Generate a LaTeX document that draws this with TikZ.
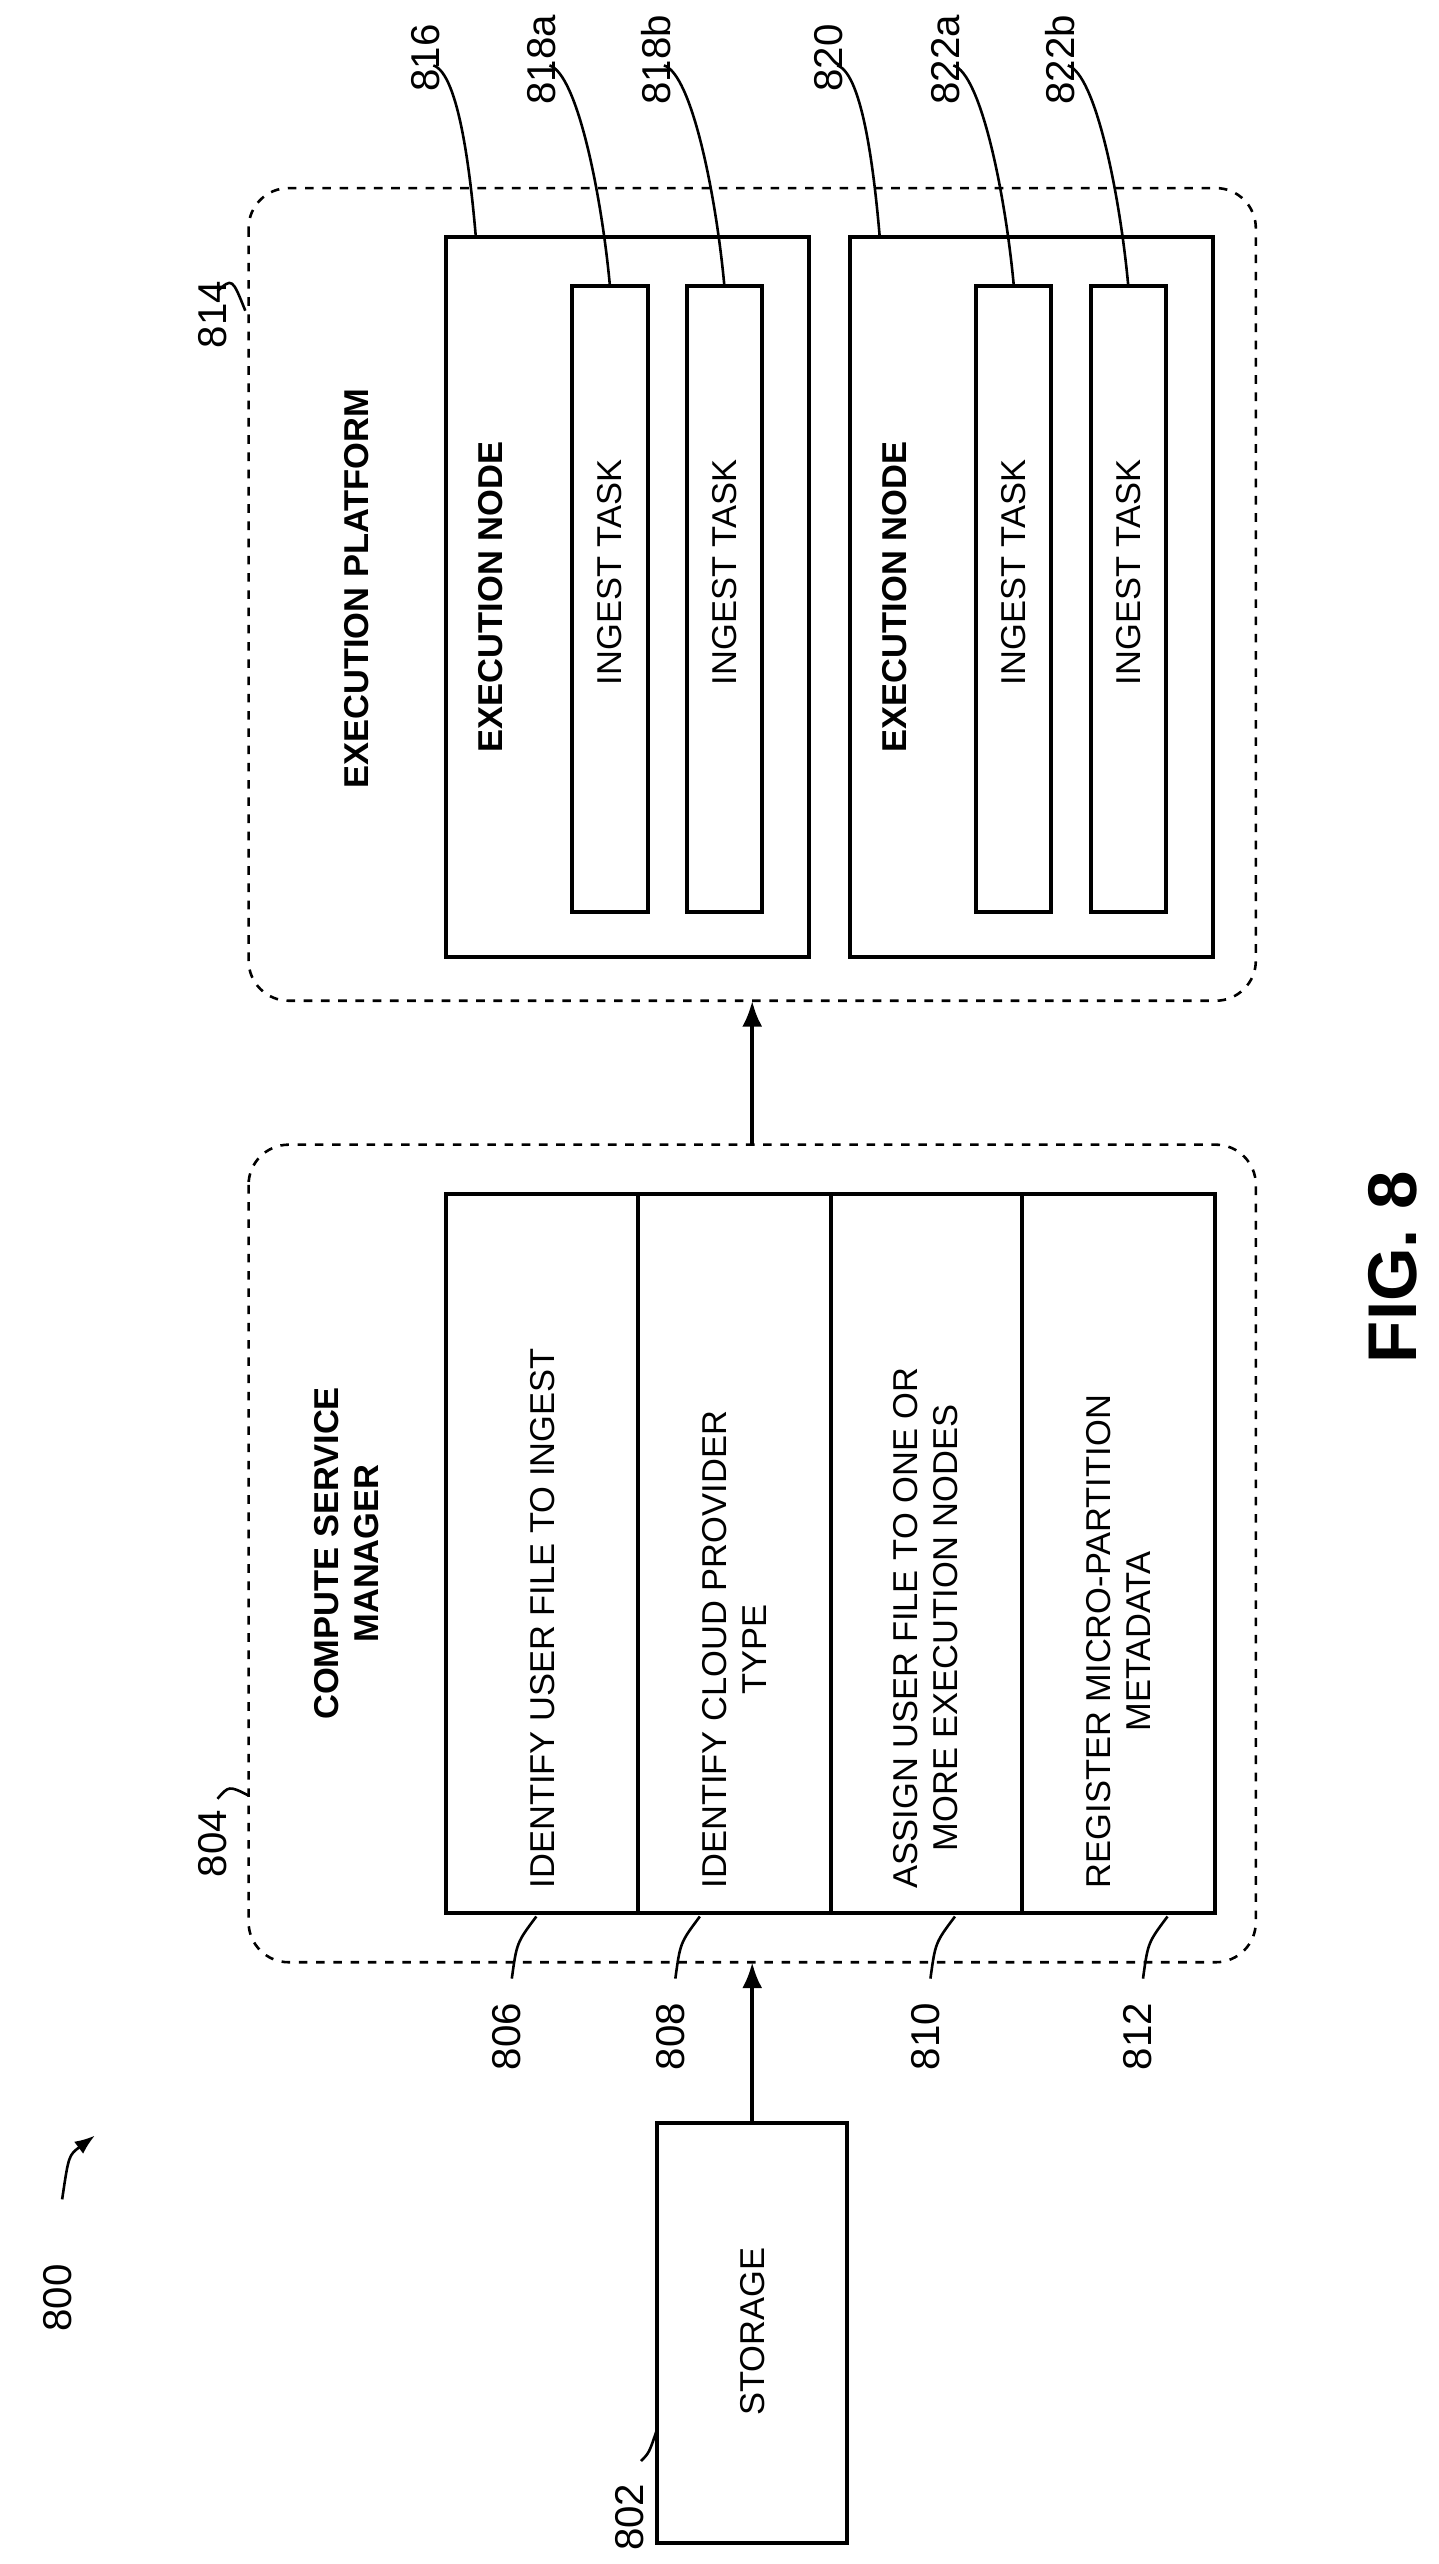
\documentclass[tikz,border=0pt]{standalone}
\usepackage{fontspec}
\setmainfont{Liberation Sans}
\usetikzlibrary{positioning,arrows.meta}
\tikzset{
  box/.style={draw, line width=1.4pt},
  dashbox/.style={draw, dashed, rounded corners=14pt, line width=0.9pt},
  txt/.style={rotate=90, font=\fontsize{12}{14}\selectfont, align=center, inner sep=0pt},
  ttl/.style={rotate=90, font=\bfseries\fontsize{12}{14}\selectfont, align=center, inner sep=0pt},
  refnum/.style={rotate=90, font=\fontsize{14}{16}\selectfont, inner sep=1pt},
  leader/.style={line width=0.9pt},
  flow/.style={-{Latex[length=9pt,width=7pt]}, line width=1.4pt}
}
\begin{document}
\begin{tikzpicture}[x=0.2mm,y=-0.2mm]
\useasboundingbox (0,0) rectangle (880,1568);
% storage
\draw[box] (402,1298) rectangle (518,1555);
\node[txt] (storage) at (460,1426) {STORAGE};
\coordinate (stortop) at (460,1298);
\node[refnum, anchor=west] (n802) at (385,1562) {802};
\draw[leader] (392,1505) .. controls (397,1500) .. (402,1485);
% figure number
\node[refnum, anchor=west] (n800) at (35,1428) {800};
\draw[leader, -{Latex[length=7pt]}] (38,1345) .. controls (42,1318) .. (58,1306);
% compute service manager
\draw[dashbox] (152,700) rectangle (768,1200);
\node[refnum, anchor=west] (n804) at (130,1150) {804};
\draw[leader] (133,1100) .. controls (140,1092) .. (152,1098);
\node[ttl] (csm) at (212,950) {COMPUTE SERVICE\\MANAGER};
\draw[box] (273,730) rectangle (743,1170);
\foreach \x in {390,508,625} \draw[box] (\x,730) -- (\x,1170);
\node[txt, anchor=west] (s806) at (332,1155) {IDENTIFY USER FILE TO INGEST};
\node[txt, anchor=west] (s808) at (449,1155) {IDENTIFY CLOUD PROVIDER\\TYPE};
\node[txt, anchor=west] (s810) at (566,1155) {ASSIGN USER FILE TO ONE OR\\MORE EXECUTION NODES};
\node[txt, anchor=west] (s812) at (684,1155) {REGISTER MICRO-PARTITION\\METADATA};
\foreach \x/\n in {310/806,410/808,566/810,696/812}{
  \node[refnum, anchor=west] (n\n) at (\x,1268) {\n};
  \draw[leader] (\x+3,1210) .. controls (\x+6,1188) .. (\x+18,1172);
}
% arrows
\coordinate (csmbot) at (460,1200);
\coordinate (csmtop) at (460,700);
\coordinate (epbot) at (460,612);
\draw[flow] (stortop) -- (csmbot);
\draw[flow] (csmtop) -- (epbot);
% execution platform
\draw[dashbox] (152,115) rectangle (768,612);
\node[refnum, anchor=west] (n814) at (130,215) {814};
\draw[leader] (133,178) .. controls (142,170) .. (150,190);
\node[ttl] (ep) at (218,360) {EXECUTION PLATFORM};
\foreach \x/\a/\b/\c in {273/816/818a/818b,520/820/822a/822b}{
  \draw[box] (\x,145) rectangle (\x+222,585);
  \node[ttl] at (\x+27,365) {EXECUTION NODE};
  \draw[box] (\x+77,175) rectangle (\x+123,558);
  \draw[box] (\x+147,175) rectangle (\x+193,558);
  \node[txt] at (\x+100,350) {INGEST TASK};
  \node[txt] at (\x+170,350) {INGEST TASK};
  \node[refnum, anchor=west] at (\x-13,58) {\a};
  \draw[leader] (\x-8,40) .. controls (\x+8,45) and (\x+15,110) .. (\x+18,145);
  \node[refnum, anchor=west] at (\x+58,66) {\b};
  \draw[leader] (\x+63,40) .. controls (\x+80,45) and (\x+95,120) .. (\x+100,175);
  \node[refnum, anchor=west] at (\x+128,66) {\c};
  \draw[leader] (\x+133,40) .. controls (\x+150,45) and (\x+165,120) .. (\x+170,175);
}
\node[rotate=90, font=\bfseries\fontsize{24}{28}\selectfont] (fig) at (852,775) {FIG. 8};
\end{tikzpicture}
\end{document}
